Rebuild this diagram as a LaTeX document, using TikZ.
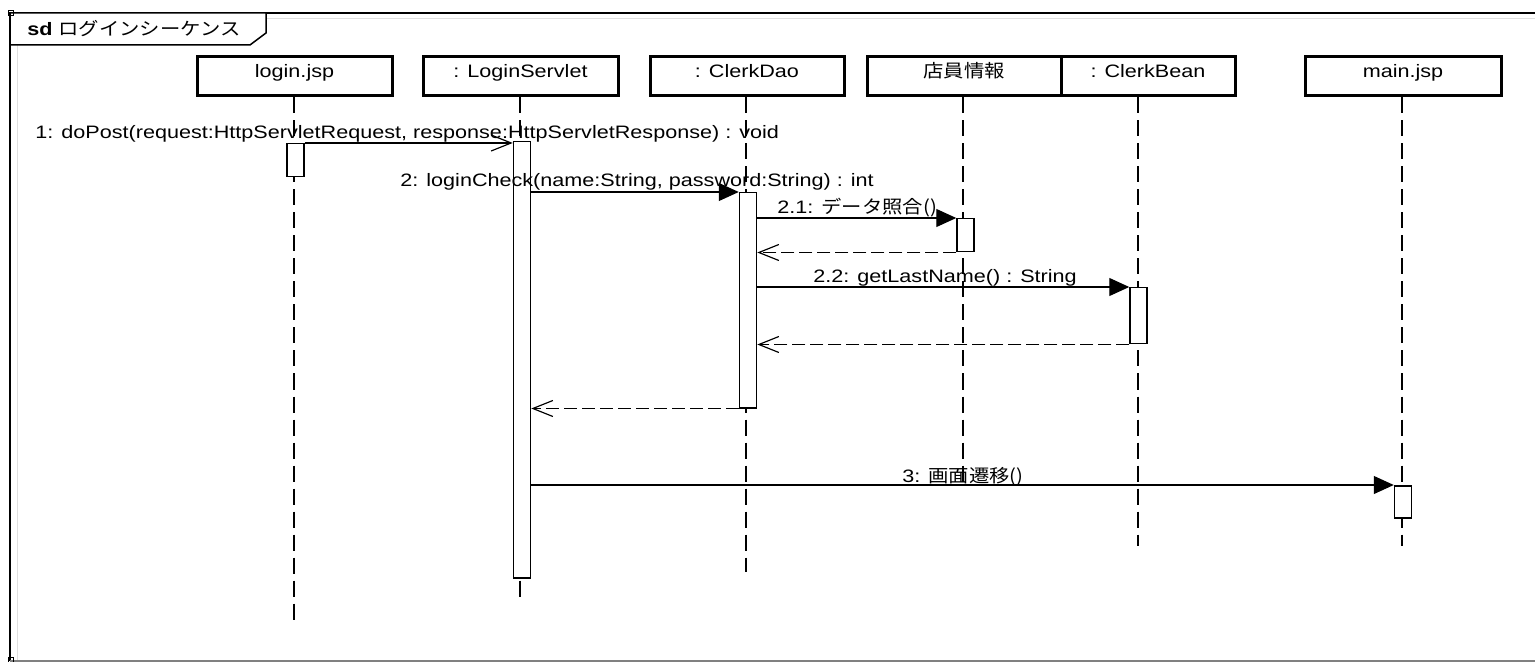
\documentclass[tikz,border=0pt]{standalone}
\usepackage{fontspec}
\setmainfont[FakeStretch=1.2]{Liberation Sans}
\newfontfamily\jp[FakeStretch=1.13]{Noto Sans CJK JP}
\usetikzlibrary{arrows.meta}
\begin{document}
\begin{tikzpicture}[x=0.5pt,y=-0.5pt,
  every node/.style={font=\fontsize{9}{11}\selectfont},
  head/.style={draw, line width=1.5pt, minimum height=19.5pt, inner sep=0, text height=7pt, text depth=5.5pt},
  life/.style={line width=1pt, dash pattern=on 8pt off 3.5pt},
  act/.style={draw, fill=white, line width=0.75pt, minimum width=8.5pt, inner sep=0, anchor=north},
  call/.style={line width=0.6pt, -{Triangle[length=10pt,width=9pt]}},
  callopen/.style={line width=0.6pt, -{Straight Barb[length=10pt,width=8pt,line width=0.6pt]}},
  ret/.style={line width=0.6pt, dash pattern=on 6.5pt off 2.5pt, -{Straight Barb[length=10pt,width=8pt,line width=0.6pt]}},
  lbl/.style={anchor=base west, inner sep=0}]
\useasboundingbox (0,0) rectangle (1535,662);
% frame
\draw[gray!25, line width=0.5pt] (17,661) -- (17,19) -- (1535,19);
\draw[line width=0.75pt] (10,661) -- (10,13) -- (1535,13);
\draw[gray, line width=1pt] (10,661) -- (1535,661);
\draw[line width=0.75pt, fill=white] (10,13) -- (266,13) -- (266,33) -- (250,45) -- (10,45) -- cycle;
\draw[line width=0.5pt] (8,11) rectangle (13,16);
\draw[line width=0.5pt] (8,657) rectangle (13,662);
\node[lbl] (title) at (27,36) {\textbf{sd} \jp{ログインシーケンス}};
% heads
\node[head, minimum width=97.5pt] (hLogin) at (294.5,76.5) {login.jsp};
\node[head, minimum width=97.5pt] (hServ) at (520.5,76.5) {: LoginServlet};
\node[head, minimum width=97pt] (hDao) at (747,76.5) {: ClerkDao};
\node[head, minimum width=97pt] (hInfo) at (964,76.5) {\jp{店員情報}};
\node[head, minimum width=87pt] (hBean) at (1148,76.5) {: ClerkBean};
\node[head, minimum width=98pt] (hMain) at (1403,76.5) {main.jsp};
% lifeline ends
\coordinate (eLogin) at (294,622);
\coordinate (eServ) at (520,598);
\coordinate (eDao) at (746,572);
\coordinate (eInfo) at (963,486);
\coordinate (eBean) at (1138,546);
\coordinate (eMain) at (1402,546);
\draw[life] (hLogin.south -| eLogin) -- (eLogin);
\draw[life] (hServ.south -| eServ) -- (eServ);
\draw[life] (hDao.south -| eDao) -- (eDao);
\draw[life] (hInfo.south -| eInfo) -- (eInfo);
\draw[life] (hBean.south -| eBean) -- (eBean);
\draw[life] (hMain.south -| eMain) -- (eMain);
% activations
\node[act, minimum height=16.5pt] (aLogin) at (295.5,143) {};
\node[act, minimum height=218pt] (aServ) at (522,141) {};
\node[act, minimum height=107.5pt] (aDao) at (748,192) {};
\node[act, minimum height=16.5pt] (aInfo) at (965.5,218) {};
\node[act, minimum height=28pt] (aBean) at (1138.5,287) {};
\node[act, minimum height=16pt] (aMain) at (1403,485) {};
% messages
\draw[callopen] (aLogin.north east) -- (aLogin.north east -| aServ.west);
\draw[call] (aServ.east |- aDao.north) -- (aDao.north west);
\draw[call] (aDao.east |- aInfo.north) -- (aInfo.north west);
\draw[ret] (aInfo.south west) -- (aDao.east |- aInfo.south);
\draw[call] (aDao.east |- aBean.north) -- (aBean.north west);
\draw[ret] (aBean.south west) -- (aDao.east |- aBean.south);
\draw[ret] (aDao.south west) -- (aServ.east |- aDao.south);
\draw[call] (aServ.east |- aMain.north) -- (aMain.north west);
% labels
\node[lbl] (l1) at (35,139) {1: doPost(request:HttpServletRequest, response:HttpServletResponse) : void};
\node[lbl] (l2) at (400,187) {2: loginCheck(name:String, password:String) : int};
\node[lbl] (l21) at (777,214) {2.1: \jp{データ照合}()};
\node[lbl] (l22) at (813,283) {2.2: getLastName() : String};
\node[lbl] (l3) at (902,482) {3: \jp{画面遷移}()};
\end{tikzpicture}
\end{document}
